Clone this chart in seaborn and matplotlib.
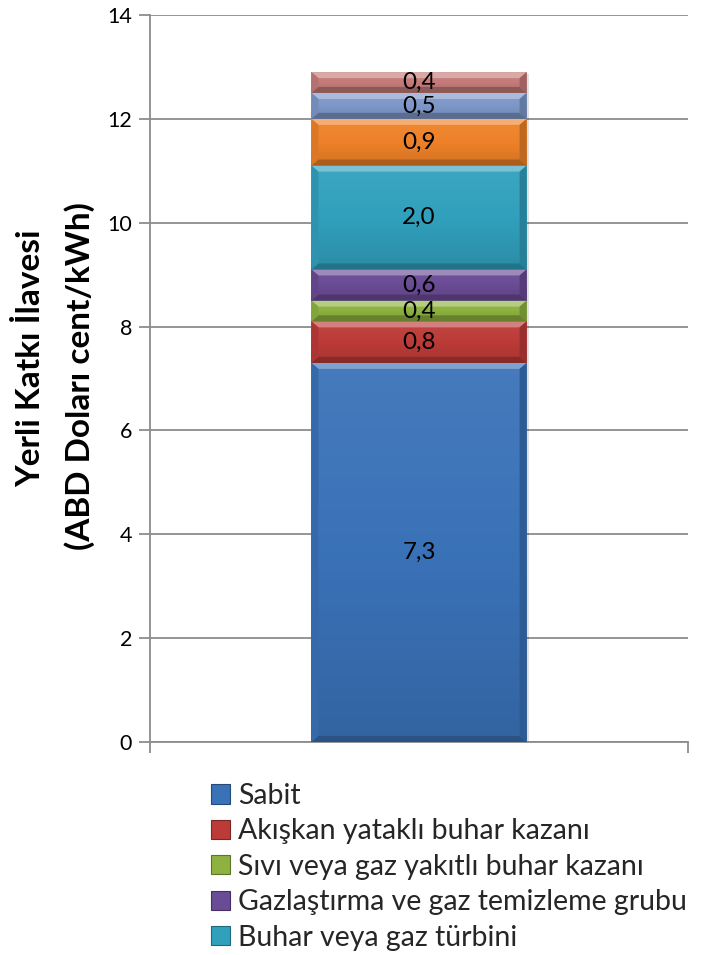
import numpy as np
import pandas as pd
import matplotlib
matplotlib.use("Agg")
import matplotlib.pyplot as plt
import seaborn as sns
from matplotlib.patches import Polygon, Patch, Rectangle
from matplotlib.colors import to_rgb, LinearSegmentedColormap

# Stacked components of the local-content premium (bottom to top)
components = [
    "Sabit",
    "Akışkan yataklı buhar kazanı",
    "Sıvı veya gaz yakıtlı buhar kazanı",
    "Gazlaştırma ve gaz temizleme grubu",
    "Buhar veya gaz türbini",
    "Yardımcı sistemler",
    "Elektrik ekipmanı",
    "Montaj ve inşaat",
]
values = [7.3, 0.8, 0.4, 0.6, 2.0, 0.9, 0.5, 0.4]
colors = ["#3A72B8", "#BC3B38", "#8DB23F", "#6A4B95", "#31A0BD",
          "#EE8128", "#7D97C8", "#C47B79"]
yticks = [0, 2, 4, 6, 8, 10, 12, 14]
ylabel_lines = ["Yerli Katkı İlavesi", "(ABD Doları cent/kWh)"]
legend_count = 5

sns.set_theme(style="white")
plt.rcParams["font.family"] = ["Lato", "DejaVu Sans"]

W, H = 706, 955
fig = plt.figure(figsize=(W / 100, H / 100), dpi=100)
ax = fig.add_axes([150 / W, 213 / H, 538 / W, 727 / H])

df = pd.DataFrame({"grup": [""] * len(values), "bilesen": components, "deger": values})
bottoms = np.concatenate([[0], np.cumsum(values)[:-1]])

for (_, row), b, c in zip(df.iterrows(), bottoms, colors):
    sns.barplot(x=[row["grup"]], y=[row["deger"]], bottom=b, width=0.4,
                color=c, saturation=1, errorbar=None, ax=ax, zorder=3,
                linewidth=0)

ax.set_xlim(-0.5, 0.5)
ax.set_ylim(0, 14)

# pixel -> data scale factors for the bevel bands
px_y = 14 / 727.0
px_x = 1 / 538.0


def shade(c, f):
    r = np.array(to_rgb(c))
    if f >= 0:
        return tuple(r + (1 - r) * f)
    return tuple(r * (1 + f))


bars = list(ax.patches)[: len(values)]
for p, c, v in zip(bars, colors, values):
    x0, y0 = p.get_x(), p.get_y()
    w, h = p.get_width(), p.get_height()
    x1, y1 = x0 + w, y0 + h
    # soft drop shadow
    ax.add_patch(Rectangle((x0 + 2 * px_x, y0 - 2 * px_y), w, h,
                           facecolor=(0, 0, 0, 0.12), edgecolor="none", zorder=2))
    # vertical body gradient
    cmap = LinearSegmentedColormap.from_list("g", [shade(c, -0.12), c, shade(c, 0.06)])
    grad = np.linspace(0, 1, 64).reshape(-1, 1)
    im = ax.imshow(grad, cmap=cmap, origin="lower", aspect="auto",
                   extent=(x0, x1, y0, y1), zorder=3.5)
    im.set_clip_path(p)
    bx, by = 7 * px_x, 6 * px_y
    by = min(by, h / 3)
    # bevel: light top, dark bottom, shaded sides
    ax.add_patch(Polygon([(x0, y1), (x1, y1), (x1 - bx, y1 - by), (x0 + bx, y1 - by)],
                         closed=True, facecolor=shade(c, 0.35), edgecolor="none", zorder=4))
    ax.add_patch(Polygon([(x0, y0), (x1, y0), (x1 - bx, y0 + by), (x0 + bx, y0 + by)],
                         closed=True, facecolor=shade(c, -0.28), edgecolor="none", zorder=4))
    ax.add_patch(Polygon([(x0, y0), (x0, y1), (x0 + bx, y1 - by), (x0 + bx, y0 + by)],
                         closed=True, facecolor=shade(c, -0.08), edgecolor="none", zorder=4))
    ax.add_patch(Polygon([(x1, y0), (x1, y1), (x1 - bx, y1 - by), (x1 - bx, y0 + by)],
                         closed=True, facecolor=shade(c, -0.2), edgecolor="none", zorder=4))
    ax.text(x0 + w / 2, y0 + h / 2, f"{v:.1f}".replace(".", ","),
            ha="center", va="center", fontsize=17.5, color="black", zorder=6)

grid_color = "#8C8C8C"
ax.set_yticks(yticks)
ax.set_yticklabels([str(t) for t in yticks], fontsize=15.5, color="black")
ax.yaxis.grid(True, color=grid_color, linewidth=1.3, zorder=0)
ax.set_axisbelow(True)
ax.set_xticks([-0.5, 0.5])
ax.set_xticklabels(["", ""])
ax.tick_params(axis="y", direction="out", length=8, width=1.3, color=grid_color, pad=5, left=True)
ax.tick_params(axis="x", direction="out", length=8, width=1.3, color=grid_color, bottom=True)
for s in ["top", "right"]:
    ax.spines[s].set_visible(False)
for s in ["left", "bottom"]:
    ax.spines[s].set_color(grid_color)
    ax.spines[s].set_linewidth(1.3)
ax.set_xlabel("")
ax.set_ylabel("")

# two-line rotated axis title
fig.text(30 / W, 1 - 358 / H, ylabel_lines[0], rotation=90, ha="center", va="center",
         fontsize=24, fontweight="bold", color="black")
fig.text(80 / W, 1 - 376 / H, ylabel_lines[1], rotation=90, ha="center", va="center",
         fontsize=24, fontweight="bold", color="black")

handles = [Patch(facecolor=c, edgecolor=shade(c, -0.35), linewidth=0.8)
           for c in colors[:legend_count]]
fig.legend(handles, components[:legend_count], loc="upper left",
           bbox_to_anchor=(211 / W, 1 - 783 / H), frameon=False,
           fontsize=20.5, handlelength=0.65, handleheight=0.65, handletextpad=0.3,
           labelspacing=0.33, borderaxespad=0, borderpad=0)

fig.savefig("out.png", dpi=100)
